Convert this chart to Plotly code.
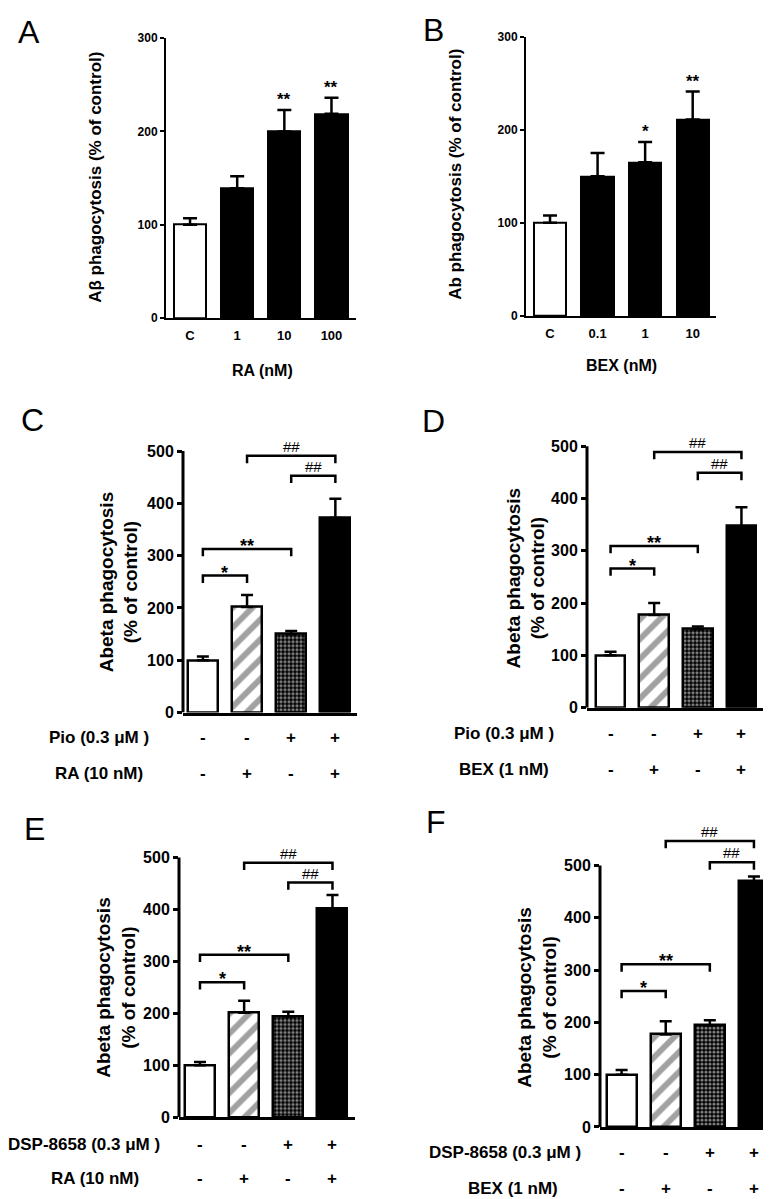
import plotly.graph_objects as go

W, H = 771, 1199
FONT = "Liberation Sans, Arial, sans-serif"

# ---------------- data ----------------
# Panel A
a_cats = ["C", "1", "10", "100"]
a_vals = [100, 139, 200, 219]
a_errtop = [107, 152, 223, 236]
a_sig = ["", "", "**", "**"]
a_xtitle = "RA (nM)"
a_ytitle = "Aβ phagocytosis (% of control)"
a_yticks = [0, 100, 200, 300]

# Panel B
b_cats = ["C", "0.1", "1", "10"]
b_vals = [100, 150, 165, 211]
b_errtop = [108, 175, 187, 241]
b_sig = ["", "", "*", "**"]
b_xtitle = "BEX (nM)"
b_ytitle = "Ab phagocytosis (% of control)"
b_yticks = [0, 100, 200, 300]

# Panels C-F (groups: control, agonist 2, agonist 1, combination)
cf_ytitle = "Abeta phagocytosis<br>(% of control)"
cf_yticks = [0, 100, 200, 300, 400, 500]
row1_signs = ["-", "-", "+", "+"]
row2_signs = ["-", "+", "-", "+"]

c_vals = [100, 202, 150, 372]
c_errtop = [107, 225, 156, 409]
c_row1 = "Pio (0.3 μM )"
c_row2 = "RA (10 nM)"
c_br_from = [0, 0, 1, 2]
c_br_to = [1, 2, 3, 3]
c_br_y = [262, 313, 491, 453]
c_br_text = ["*", "**", "##", "##"]

d_vals = [100, 177, 150, 347]
d_errtop = [107, 200, 155, 383]
d_row1 = "Pio (0.3 μM )"
d_row2 = "BEX (1 nM)"
d_br_from = [0, 0, 1, 2]
d_br_to = [1, 2, 3, 3]
d_br_y = [266, 309, 489, 449]
d_br_text = ["*", "**", "##", "##"]

e_vals = [100, 201, 194, 402]
e_errtop = [106, 224, 203, 428]
e_row1 = "DSP-8658 (0.3 μM )"
e_row2 = "RA (10 nM)"
e_br_from = [0, 0, 1, 2]
e_br_to = [1, 2, 3, 3]
e_br_y = [260, 313, 490, 452]
e_br_text = ["*", "**", "##", "##"]

f_vals = [100, 177, 194, 470]
f_errtop = [109, 202, 204, 479]
f_row1 = "DSP-8658 (0.3 μM )"
f_row2 = "BEX (1 nM)"
f_br_from = [0, 0, 1, 2]
f_br_to = [1, 2, 3, 3]
f_br_y = [260, 311, 547, 506]
f_br_text = ["*", "**", "##", "##"]

# ---------------- layout geometry (pixels) ----------------
fig = go.Figure()
annotations = []
shapes = []


def sfx(i):
    return "" if i == 1 else str(i)


def add_axes(i, xl, xr, y0px, topval_px, topval, ymax, xlo, xhi, yticks, tfs, lw, tlen, showyline):
    scale = (y0px - topval_px) / topval
    top_px = y0px - ymax * scale
    s = sfx(i)
    fig.layout["xaxis" + s] = dict(
        domain=[xl / W, xr / W], range=[xlo, xhi], anchor="y" + s,
        showgrid=False, zeroline=False, showline=True, linecolor="black",
        linewidth=lw, ticks="", fixedrange=True,
    )
    fig.layout["yaxis" + s] = dict(
        domain=[1 - y0px / H, 1 - top_px / H], range=[0, ymax], anchor="x" + s,
        showgrid=False, zeroline=False, showline=showyline, linecolor="black",
        linewidth=lw, ticks="outside", ticklen=tlen, tickwidth=lw, tickcolor="black",
        tickvals=yticks, ticktext=[str(v) for v in yticks],
        tickfont=dict(family=FONT, size=tfs, color="black", weight="bold"),
    )
    if not showyline:
        shapes.append(dict(type="line", xref="paper", yref="y" + s,
                           x0=xl / W, x1=xl / W, y0=0, y1=yticks[-1],
                           line=dict(color="black", width=lw)))


def add_bars(i, x, vals, errtop, colors, shapes_p, fgs, bgs, lw, width, ecap, eth):
    s = sfx(i)
    fig.add_trace(go.Bar(
        x=x, y=vals, width=width, xaxis="x" + s, yaxis="y" + s, showlegend=False,
        marker=dict(color=colors, line=dict(color="black", width=lw),
                    pattern=dict(shape=shapes_p, fgcolor=fgs, bgcolor=bgs,
                                 size=[10, 14, 4, 10], solidity=[0.3, 0.42, 0.5, 0.3])),
        error_y=dict(type="data", symmetric=False,
                     array=[e - v for e, v in zip(errtop, vals)],
                     arrayminus=[0] * len(vals), color="black",
                     thickness=eth, width=ecap),
    ))


def text(x, y, t, size, xref="paper", yref="paper", bold=True, angle=0,
         xanchor="center", yanchor="middle", yshift=0):
    annotations.append(dict(
        x=x, y=y, xref=xref, yref=yref, text=t, showarrow=False,
        textangle=angle, xanchor=xanchor, yanchor=yanchor, yshift=yshift,
        font=dict(family=FONT, size=size, color="black",
                  weight="bold" if bold else "normal"),
    ))


def panel_letter(t, cx, cy):
    text(cx / W, 1 - cy / H, t, 32, bold=False)


# ---------------- panels A & B ----------------
ab = [
    (1, a_cats, a_vals, a_errtop, a_sig, a_xtitle, a_ytitle, a_yticks,
     158, 348, 307, 23.5, -0.51, 3.52, (88, 165), (254, 360), ("A", 21, 17)),
    (2, b_cats, b_vals, b_errtop, b_sig, b_xtitle, b_ytitle, b_yticks,
     518, 708, 305, 22, -0.505, 3.49, (448, 162), (613, 355), ("B", 425, 15)),
]
for (i, cats, vals, errtop, sig, xt, yt, yticks, xl, xr, y0, ytp, xlo, xhi,
     ypos, xpos, letter) in ab:
    add_axes(i, xl, xr, y0, ytp, 300, 300, xlo, xhi, yticks, 12, 2, 4, True)
    s = sfx(i)
    fig.layout["xaxis" + s].update(
        type="category", tickfont=dict(family=FONT, size=13, color="black", weight="bold"),
        ticklabelstandoff=4)
    colors = ["white"] + ["black"] * (len(vals) - 1)
    add_bars(i, cats, vals, errtop, colors, [""] * len(vals), colors, colors,
             2, 0.68, 7, 2.5)
    for k, (e, st) in enumerate(zip(errtop, sig)):
        if st:
            text(k, e, st, 17, xref="x" + s, yref="y" + s, yanchor="bottom", yshift=-1)
    text(ypos[0] / W, 1 - ypos[1] / H, yt, 17, angle=-90)
    text(xpos[0] / W, 1 - xpos[1] / H, xt, 16)
    panel_letter(*letter)

# ---------------- panels C-F ----------------
cf = [
    (3, c_vals, c_errtop, c_row1, c_row2, c_br_from, c_br_to, c_br_y, c_br_text,
     175, 349, 707, 442, -0.45, 3.49, (111, 574), (143, 732), (137, 769), ("C", 24, 410)),
    (4, d_vals, d_errtop, d_row1, d_row2, d_br_from, d_br_to, d_br_y, d_br_text,
     579, 757, 702, 437, -0.54, 3.54, (518, 571), (548, 728), (543, 765), ("D", 425, 411)),
    (5, e_vals, e_errtop, e_row1, e_row2, e_br_from, e_br_to, e_br_y, e_br_text,
     171, 347, 1117, 854, -0.475, 3.51, (108, 986), (154, 1145), (133, 1179), ("E", 26, 825)),
    (6, f_vals, f_errtop, f_row1, f_row2, f_br_from, f_br_to, f_br_y, f_br_text,
     592, 768, 1127, 862, -0.49, 3.5, (529, 996), (575, 1153), (552, 1189), ("F", 428, 818)),
]
for (i, vals, errtop, r1, r2, bfrom, bto, by, btxt, xl, xr, y0, y500, xlo, xhi,
     ypos, r1pos, r2pos, letter) in cf:
    add_axes(i, xl, xr, y0, y500, 500, 560, xlo, xhi, cf_yticks, 16, 3, 5, False)
    s = sfx(i)
    fig.layout["xaxis" + s].update(showticklabels=False)
    xs = list(range(len(vals)))
    add_bars(i, xs, vals, errtop,
             ["white", "white", "black", "black"],
             ["", "/", ".", ""],
             ["black", "black", "white", "black"],
             ["white", "white", "black", "black"],
             2.5, 0.68, 6, 2.5)
    for a, b, h, t in zip(bfrom, bto, by, btxt):
        fig.add_trace(go.Scatter(
            x=[a, a, b, b], y=[h - 14, h, h, h - 14], mode="lines",
            xaxis="x" + s, yaxis="y" + s, showlegend=False, hoverinfo="skip",
            line=dict(color="black", width=2.5),
        ))
        if t.startswith("#"):
            text((a + b) / 2, h, t, 15, xref="x" + s, yref="y" + s, bold=False,
                 yanchor="bottom", yshift=-1)
        else:
            text((a + b) / 2, h, t, 18, xref="x" + s, yref="y" + s,
                 yanchor="bottom", yshift=-9)
    # y title
    text(ypos[0] / W, 1 - ypos[1] / H, cf_ytitle, 19, angle=-90)
    # row labels
    text(r1pos[0] / W, 1 - r1pos[1] / H, r1, 17, xanchor="right")
    text(r2pos[0] / W, 1 - r2pos[1] / H, r2, 17, xanchor="right")
    for x, s1, s2 in zip(xs, row1_signs, row2_signs):
        text(x, 1 - r1pos[1] / H, s1, 17, xref="x" + s)
        text(x, 1 - r2pos[1] / H, s2, 17, xref="x" + s)
    panel_letter(*letter)

fig.update_layout(
    width=W, height=H, autosize=False,
    margin=dict(l=0, r=0, t=0, b=0),
    paper_bgcolor="white", plot_bgcolor="white",
    annotations=annotations, shapes=shapes, bargap=0,
    font=dict(family=FONT, color="black"),
)

fig.write_html("out.html")
